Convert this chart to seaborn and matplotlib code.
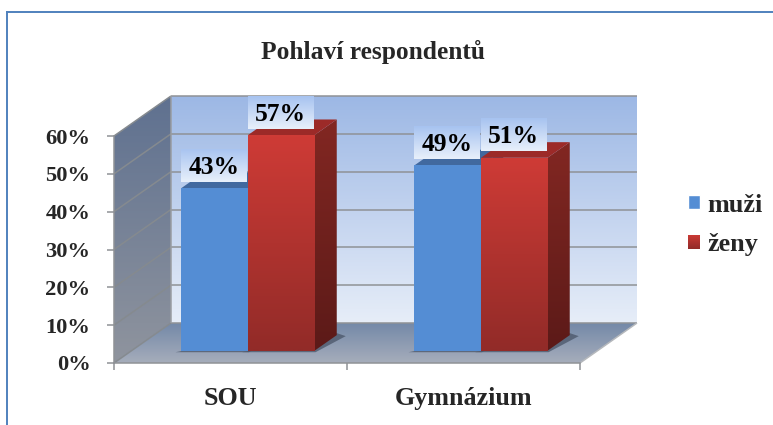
import numpy as np
import pandas as pd
import seaborn as sns
import matplotlib
matplotlib.use("Agg")
import matplotlib.pyplot as plt
from matplotlib.colors import to_rgb
from matplotlib.lines import Line2D
from matplotlib.patches import Polygon
from matplotlib.transforms import IdentityTransform, Affine2D

title = "Pohlaví respondentů"
categories = ["SOU", "Gymnázium"]
series_names = ["muži", "ženy"]
muzi = [43, 49]
zeny = [57, 51]
yticks = [0, 10, 20, 30, 40, 50, 60]

W, H = 773, 425
sns.set_style("white")
plt.rcParams["font.family"] = ["Liberation Serif", "DejaVu Serif"]
plt.rcParams["font.weight"] = "bold"

df = pd.DataFrame({
    "cat": categories * 2,
    "val": muzi + zeny,
    "sex": [series_names[0]] * 2 + [series_names[1]] * 2,
})

fig = plt.figure(figsize=(W / 100, H / 100), dpi=100, facecolor="white")
ax = fig.add_axes([114 / W, (H - 363) / H, 466 / W, 227 / H])
ax.patch.set_alpha(0)
sns.barplot(data=df, x="cat", y="val", hue="sex", palette=["#548DD4", "#C0352F"],
            width=0.571, gap=0, saturation=1, ax=ax, zorder=4)
ax.set_xlim(-0.5, 1.5)
ax.set_ylim(0, 60)
ax.set_xlabel("")
ax.set_ylabel("")
ax.set_yticks(yticks)
ax.set_yticklabels([f"{t}%" for t in yticks], fontsize=16.2, fontweight="bold")
ax.set_xticks([-0.5, 0.5, 1.5])
ax.set_xticks([0, 1], minor=True)
ax.set_xticklabels([])
ax.set_xticklabels(categories, minor=True, fontsize=18.7, fontweight="bold")
GRAY = "#8F9296"
ax.tick_params(axis="y", length=5, width=1.1, color=GRAY, pad=12, left=True)
ax.tick_params(axis="x", which="major", length=5, width=1.1, color=GRAY, bottom=True)
ax.tick_params(axis="x", which="minor", length=0, pad=17)
for s in ("top", "right"):
    ax.spines[s].set_visible(False)
for s in ("left", "bottom"):
    ax.spines[s].set_color(GRAY)
    ax.spines[s].set_linewidth(1.1)
fig.canvas.draw()

ID = IdentityTransform()
DEPTH = np.array([57.0, 40.0])       # full floor depth, px
BAR_D0 = 0.307                       # depth of the bar front plane
BAR_DD = 0.39                        # depth of the bars themselves


def P(x, y, d=0.0):
    return ax.transData.transform((x, y)) + d * DEPTH


def grad(verts, top, bottom, z):
    verts = np.asarray(verts)
    n = 64
    t = np.linspace(0, 1, n)[:, None]
    img = (1 - t) * np.array(to_rgb(top)) + t * np.array(to_rgb(bottom))
    x0, y0 = verts.min(0)
    x1, y1 = verts.max(0)
    im = ax.imshow(img[:, None, :], extent=(x0, x1, y0, y1), origin="upper",
                   aspect="auto", transform=ID, zorder=z, interpolation="bilinear")
    clip = Polygon(verts, closed=True, transform=ID)
    im.set_clip_path(clip)
    im.set_clip_box(fig.bbox)
    return im


def poly(verts, color, z, **kw):
    ax.add_patch(Polygon(verts, closed=True, transform=ID, facecolor=color,
                         edgecolor="none", zorder=z, clip_on=False, **kw))


def seg(a, b, color=GRAY, lw=1.1, z=2):
    ax.plot([a[0], b[0]], [a[1], b[1]], transform=ID, color=color, lw=lw,
            zorder=z, clip_on=False, solid_capstyle="butt")


xl, xr = ax.get_xlim()
yb, yt = ax.get_ylim()
# back wall, side wall and floor
grad([P(xl, yb, 1), P(xr, yb, 1), P(xr, yt, 1), P(xl, yt, 1)], "#9DB8E5", "#E6EDF8", 1)
grad([P(xl, yb, 0), P(xl, yb, 1), P(xl, yt, 1), P(xl, yt, 0)], "#5F7190", "#8F949E", 1)
grad([P(xl, yb, 0), P(xr, yb, 0), P(xr, yb, 1), P(xl, yb, 1)], "#7489A8", "#A6ADBB", 1)
for t in yticks:
    seg(P(xl, t, 0), P(xl, t, 1), "#858A8F", 1.1)
    seg(P(xl, t, 1), P(xr, t, 1), "#8F9296", 1.1)
seg(P(xl, yb, 1), P(xl, yt, 1), "#9A9DA2", 1.1)
seg(P(xr, yb, 0), P(xr, yb, 1), "#B5B8BC", 1.1)

# bars: seaborn's rectangles, moved onto their depth plane
shift = Affine2D().translate(*(BAR_D0 * DEPTH))
styles = [
    dict(front=None, side=("#3F679C", "#2F4F7C"), top="#41699F"),
    dict(front=("#CE3B36", "#922B28"), side=("#822722", "#5C1A18"), top="#9C2A28"),
]
label_colors = ("#A7C3F0", "#E8F0FB")
for i, (cont, st) in enumerate(zip(ax.containers, styles)):
    z = 4 + i
    for bar in cont:
        bar.set_transform(ax.transData + shift)
        bar.set_zorder(z + 0.2)
        bar.set_clip_on(False)
        bar.set_edgecolor("none")
        bar.set_linewidth(0)
        x0, x1 = bar.get_x(), bar.get_x() + bar.get_width()
        v = bar.get_height()
        a, b = P(x0, 0, BAR_D0), P(x1, 0, BAR_D0)
        c, d = P(x1, v, BAR_D0), P(x0, v, BAR_D0)
        off = BAR_DD * DEPTH
        ax.add_patch(Polygon([a + [-6, -1.5], b + [1, -1.5], b + off + [9, -1], b + off + [0, 2]],
                             closed=True, transform=ID, facecolor="#4A5568", alpha=0.75,
                             edgecolor="none", zorder=3, clip_on=False))
        grad([b, b + off, c + off, c], st["side"][0], st["side"][1], z)
        poly([d, c, c + off, d + off], st["top"], z)
        if st["front"]:
            grad([a, b, c, d], st["front"][0], st["front"][1], z + 0.3)
        # value label on its gradient box
        bx0, bx1 = d[0], c[0] - 1
        by0 = d[1] + 6.5
        by1 = by0 + 33
        grad([(bx0, by0), (bx1, by0), (bx1, by1), (bx0, by1)], *label_colors, 7)
        ax.text((bx0 + bx1) / 2, (by0 + by1) / 2 - 2, f"{v:.0f}%", transform=ID,
                ha="center", va="center", fontsize=18.4, fontweight="bold",
                color="black", zorder=8)

# legend
handles, labels = ax.get_legend_handles_labels()
leg = ax.legend(handles, labels, loc="center left",
                bbox_to_anchor=(688 / W, (H - 225) / H), bbox_transform=fig.transFigure,
                frameon=False, fontsize=18.8, borderpad=0, borderaxespad=0,
                handlelength=0.46, handleheight=0.45, handletextpad=0.27, labelspacing=0.63)
for t in leg.get_texts():
    t.set_fontweight("bold")

ax.set_xlim(xl, xr)
ax.set_ylim(yb, yt)
fig.canvas.draw()

# red legend swatch carries the same gradient as the bars
bb = leg.get_patches()[1].get_window_extent()
grad([(bb.x0, bb.y0), (bb.x1, bb.y0), (bb.x1, bb.y1), (bb.x0, bb.y1)], "#CE3B36", "#922B28", 9)
ax.set_xlim(xl, xr)
ax.set_ylim(yb, yt)

fig.suptitle(title, x=373 / W, y=(H - 51.5) / H, va="center", fontsize=18.4, fontweight="bold")

# outer frame: only the top and left edges fall inside the picture
for xs, ys in (([7, 7], [0, H - 12]), ([7, W], [H - 12, H - 12])):
    fig.add_artist(Line2D(np.array(xs) / W, np.array(ys) / H, transform=fig.transFigure,
                          color="#4F81BD", lw=1.4, solid_capstyle="projecting"))

fig.savefig("out.png", dpi=100, facecolor="white")
